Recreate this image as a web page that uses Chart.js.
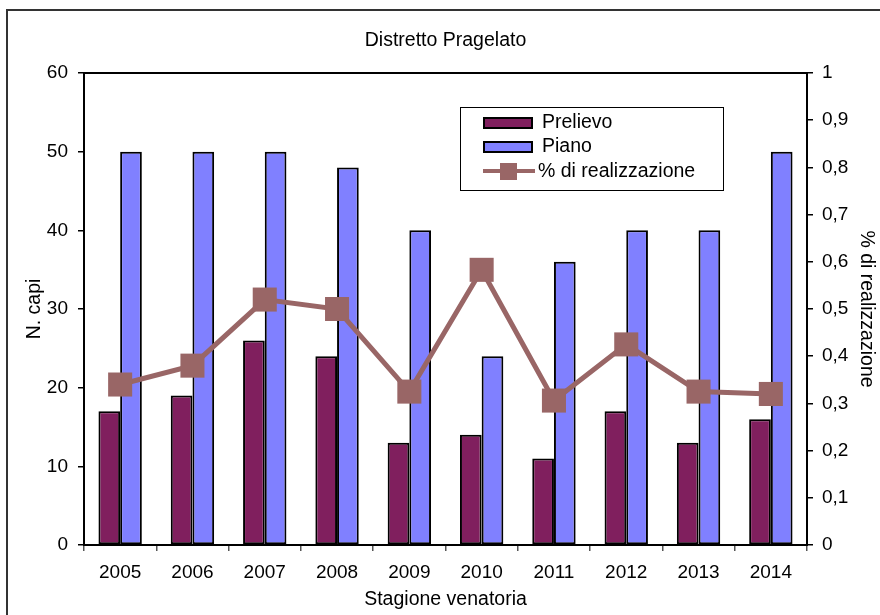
<!DOCTYPE html>
<html>
<head>
<meta charset="utf-8">
<script src="https://cdn.jsdelivr.net/npm/chart.js@4/dist/chart.umd.min.js"></script>
<style>
html,body{margin:0;padding:0;background:#fff;}
#wrap{width:880px;height:615px;position:relative;}
</style>
</head>
<body>
<div id="wrap"><canvas id="c" width="880" height="615"></canvas></div>
<script>
const categories = ['2005','2006','2007','2008','2009','2010','2011','2012','2013','2014'];
const prelievo = [17, 19, 26, 24, 13, 14, 11, 17, 13, 16];
const piano = [50, 50, 50, 48, 40, 24, 36, 40, 40, 50];
const realizzazione = [0.34, 0.38, 0.52, 0.50, 0.325, 0.583, 0.306, 0.425, 0.325, 0.32];
const leftTicks = [0, 10, 20, 30, 40, 50, 60];
const rightTicks = ['0','0,1','0,2','0,3','0,4','0,5','0,6','0,7','0,8','0,9','1'];

const FONT = '"Liberation Sans", Arial, sans-serif';
const COL_PRE = '#801F5E';
const COL_PIANO = '#8080FF';
const COL_LINE = '#996666';

const decor = {
  id: 'decor',
  beforeDatasetsDraw(chart) {
    const ctx = chart.ctx, a = chart.chartArea;
    ctx.save();
    ctx.strokeStyle = '#000';
    ctx.lineWidth = 2;
    ctx.strokeRect(a.left, a.top, a.right - a.left, a.bottom - a.top);
    ctx.restore();
  },
  afterDraw(chart) {
    const ctx = chart.ctx, a = chart.chartArea;
    ctx.save();
    // outer border
    ctx.strokeStyle = '#333';
    ctx.lineWidth = 2;
    ctx.strokeRect(7, 10, 900, 700);
    // title
    ctx.fillStyle = '#000';
    ctx.font = '19.5px ' + FONT;
    ctx.textAlign = 'center';
    ctx.textBaseline = 'middle';
    ctx.fillText('Distretto Pragelato', (a.left + a.right) / 2, 41);
    // x axis title
    ctx.fillText('Stagione venatoria', (a.left + a.right) / 2, 600);
    // left axis title
    ctx.save();
    ctx.translate(35, (a.top + a.bottom) / 2);
    ctx.rotate(-Math.PI / 2);
    ctx.fillText('N. capi', 0, 0);
    ctx.restore();
    // right axis title
    ctx.save();
    ctx.translate(866, (a.top + a.bottom) / 2);
    ctx.rotate(Math.PI / 2);
    ctx.fillText('% di realizzazione', 0, 0);
    ctx.restore();
    // legend
    ctx.fillStyle = '#fff';
    ctx.fillRect(460, 107, 263, 83);
    ctx.strokeStyle = '#000';
    ctx.lineWidth = 1;
    ctx.strokeRect(460.5, 107.5, 263, 83);
    ctx.textAlign = 'left';
    ctx.font = '19.5px ' + FONT;
    // Prelievo
    ctx.fillStyle = COL_PRE;
    ctx.fillRect(484, 118, 48, 10);
    ctx.lineWidth = 2;
    ctx.strokeRect(484, 118, 48, 10);
    ctx.fillStyle = '#000';
    ctx.fillText(chart.data.datasets[0].label, 542, 123);
    // Piano
    ctx.fillStyle = COL_PIANO;
    ctx.fillRect(484, 142, 48, 10);
    ctx.strokeRect(484, 142, 48, 10);
    ctx.fillStyle = '#000';
    ctx.fillText(chart.data.datasets[1].label, 542, 147);
    // line
    ctx.strokeStyle = COL_LINE;
    ctx.lineWidth = 4;
    ctx.beginPath();
    ctx.moveTo(483, 171);
    ctx.lineTo(535, 171);
    ctx.stroke();
    ctx.fillStyle = COL_LINE;
    ctx.fillRect(500, 163, 17, 17);
    ctx.fillStyle = '#000';
    ctx.fillText(chart.data.datasets[2].label, 538, 172);
    ctx.restore();
  }
};

new Chart(document.getElementById('c'), {
  data: {
    labels: categories,
    datasets: [
      {
        type: 'bar', label: 'Prelievo', data: prelievo,
        backgroundColor: COL_PRE, borderColor: '#000', borderWidth: 2,
        borderSkipped: false, yAxisID: 'y', order: 2,
        categoryPercentage: 0.6, barPercentage: 1.0
      },
      {
        type: 'bar', label: 'Piano', data: piano,
        backgroundColor: COL_PIANO, borderColor: '#000', borderWidth: 2,
        borderSkipped: false, yAxisID: 'y', order: 2,
        categoryPercentage: 0.6, barPercentage: 1.0
      },
      {
        type: 'line', label: '% di realizzazione', data: realizzazione,
        borderColor: COL_LINE, backgroundColor: COL_LINE, borderWidth: 5,
        pointStyle: 'rect', pointRadius: 17, pointBorderWidth: 0,
        pointBackgroundColor: COL_LINE, tension: 0, yAxisID: 'y1', order: 0
      }
    ]
  },
  options: {
    responsive: false,
    animation: false,
    layout: { padding: { top: 73, left: 0, right: 0, bottom: 0 } },
    plugins: { legend: { display: false }, title: { display: false }, tooltip: { enabled: false } },
    scales: {
      x: {
        type: 'category', offset: true,
        grid: { display: true, drawOnChartArea: false, offset: true, tickLength: 6, color: '#555', lineWidth: 1.5 },
        border: { display: true, color: '#000', width: 2 },
        ticks: { color: '#000', font: { family: FONT, size: 19 }, padding: 10, maxRotation: 0, autoSkip: false },
        afterFit(s) { s.height = 70; }
      },
      y: {
        position: 'left', min: 0, max: 60,
        afterBuildTicks(s) { s.ticks = leftTicks.map(v => ({ value: v })); },
        grid: { display: true, drawOnChartArea: false, tickLength: 6, color: '#000', lineWidth: 1.5 },
        border: { display: true, color: '#000', width: 2 },
        ticks: { color: '#000', font: { family: FONT, size: 19 }, padding: 10 },
        afterFit(s) { s.width = 84; }
      },
      y1: {
        position: 'right', min: 0, max: 1,
        afterBuildTicks(s) { s.ticks = rightTicks.map((t, i) => ({ value: i / 10 })); },
        grid: { display: true, drawOnChartArea: false, tickLength: 6, color: '#000', lineWidth: 1.5 },
        border: { display: true, color: '#000', width: 2 },
        ticks: {
          color: '#000', font: { family: FONT, size: 19 }, padding: 9,
          callback: (v, i) => rightTicks[i]
        },
        afterFit(s) { s.width = 73; }
      }
    }
  },
  plugins: [decor]
});
</script>
</body>
</html>
